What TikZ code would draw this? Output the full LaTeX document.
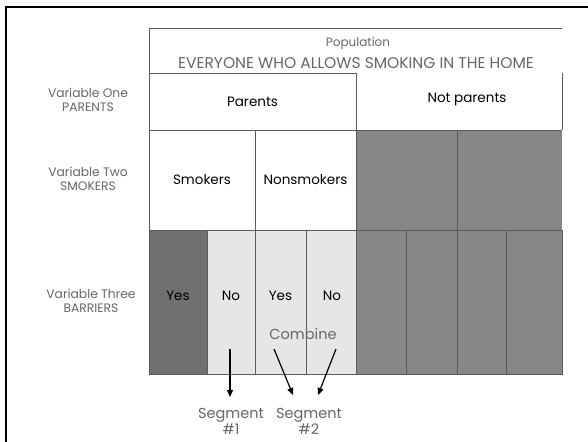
\documentclass[tikz,border=0pt]{standalone}
\usepackage{fontspec}
\setmainfont{Poppins}
\usepackage{xcolor}
\usetikzlibrary{arrows.meta,positioning}

\definecolor{gridgray}{HTML}{5A5A5A}
\definecolor{darkcell}{HTML}{707070}
\definecolor{midcell}{HTML}{878787}
\definecolor{lightcell}{HTML}{E6E6E6}
\definecolor{labelgray}{HTML}{666666}

\begin{document}
\begin{tikzpicture}[x=1pt, y=-1pt,
  cell/.style={inner sep=0pt, outer sep=0pt},
  box/.style={cell, draw=gridgray, line width=0.8pt},
  grid/.style={draw=gridgray, line width=0.8pt},
  txt/.style={font=\fontsize{13.5}{14}\selectfont, text=black},
  side/.style={align=center, font=\fontsize{12.3}{13.5}\selectfont, text=labelgray},
  note/.style={align=center, font=\fontsize{14.5}{16}\selectfont, text=labelgray},
  arr/.style={line width=1.2pt, -{Triangle[length=7pt, width=6pt]}}
]
  \useasboundingbox (0,0) rectangle (588,441);
  \draw[line width=2pt] (5.5,450) -- (5.5,7.5) -- (600,7.5);

  % population row and variable one
  \node[cell, minimum width=413pt, minimum height=45pt] (pop) at (355.5,50.5) {};
  \node[font=\fontsize{12}{13}\selectfont, text=labelgray] (poplbl) at (358,43) {Population};
  \node[font=\fontsize{15.5}{16}\selectfont, text=labelgray] (everyone) at (356,63) {EVERYONE WHO ALLOWS SMOKING IN THE HOME};
  \node[box, minimum width=207pt, minimum height=57pt, txt] (par) at (252.5,101.5) {Parents};
  \node[cell, minimum width=206pt, minimum height=57pt] (npar) at (459,101.5) {};
  \node[txt] (nparlbl) at (467,100) {Not parents};

  % variable two
  \node[box, minimum width=106pt, minimum height=100pt, txt] (smk) at (202,180) {Smokers};
  \node[box, minimum width=101pt, minimum height=100pt, txt] (nsmk) at (305.5,180) {Nonsmokers};
  \node[box, fill=midcell, minimum width=101pt, minimum height=100pt] (np1) at (406.5,180) {};
  \node[cell, fill=midcell, minimum width=105pt, minimum height=100pt] (np2) at (509.5,180) {};

  % variable three
  \node[box, fill=darkcell, minimum width=58pt, minimum height=144pt] (b1) at (178,302) {};
  \node[box, fill=lightcell, minimum width=48pt, minimum height=144pt] (b2) at (231,302) {};
  \node[box, fill=lightcell, minimum width=51pt, minimum height=144pt] (b3) at (280.5,302) {};
  \node[box, fill=lightcell, minimum width=50pt, minimum height=144pt] (b4) at (331,302) {};
  \node[box, fill=midcell, minimum width=50pt, minimum height=144pt] (b5) at (381,302) {};
  \node[box, fill=midcell, minimum width=51pt, minimum height=144pt] (b6) at (431.5,302) {};
  \node[box, fill=midcell, minimum width=49pt, minimum height=144pt] (b7) at (481.5,302) {};
  \node[box, fill=midcell, minimum width=56pt, minimum height=144pt] (b8) at (534,302) {};
  \node[txt] (yes1) at (178,296) {Yes};
  \node[txt] (no1) at (231,296) {No};
  \node[txt] (yes2) at (280.5,296) {Yes};
  \node[txt] (no2) at (332,296) {No};

  % open grid lines
  \draw[grid] (pop.south west) -- (pop.north west) -- (pop.north east);
  \draw[grid] (npar.north east) -- (npar.south east);
  \draw[grid] (np2.north west) -- (np2.north east);
  \draw[grid] (np2.north west) -- (np2.south west);

  % side labels
  \node[side] (var1) at (88,100) {Variable One\\PARENTS};
  \node[side] (var2) at (88,179) {Variable Two\\SMOKERS};
  \node[side] (var3) at (91,301) {Variable Three\\BARRIERS};

  % segments
  \node[note] (comb) at (303,334) {Combine};
  \node[note] (seg1) at (231,421) {Segment\\\#1};
  \node[note] (seg2) at (309,421) {Segment\\\#2};
  \coordinate (s1) at (230,349);
  \coordinate (s2) at (274,349);
  \coordinate (s3) at (336,349);
  \coordinate (e1) at (230,397);
  \coordinate (e2) at (293,395);
  \coordinate (e3) at (318,395);
  \draw[arr] (s1) -- (e1);
  \draw[arr] (s2) -- (e2);
  \draw[arr] (s3) -- (e3);
\end{tikzpicture}
\end{document}
